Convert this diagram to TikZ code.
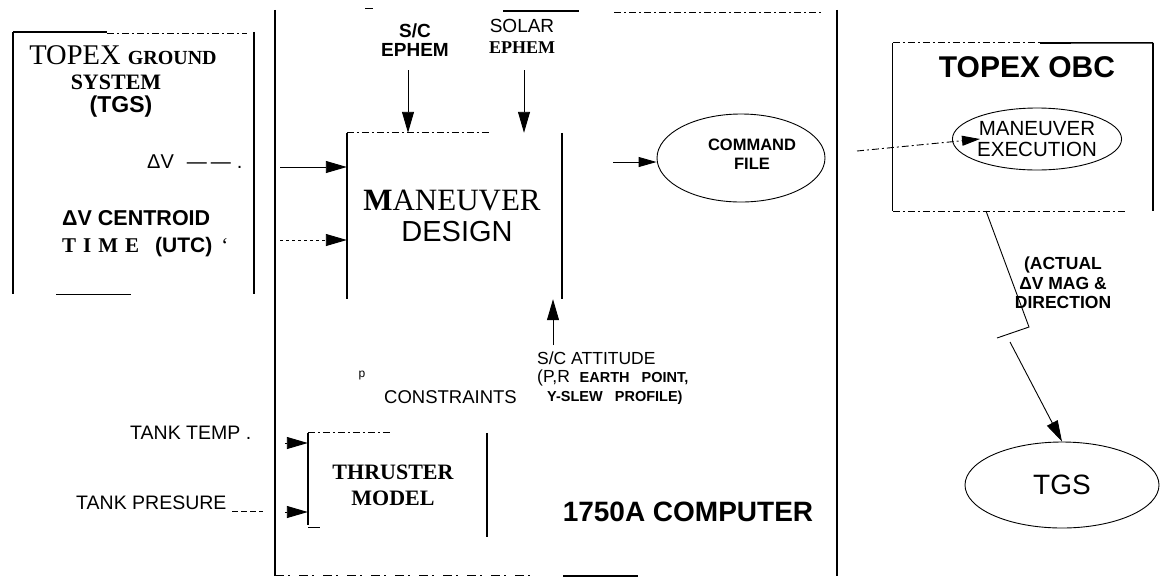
\documentclass[tikz,border=0pt]{standalone}
\usepackage{fontspec}
\setmainfont{Liberation Serif}
\setsansfont{Liberation Sans}
\usetikzlibrary{arrows.meta,shapes.geometric}
\begin{document}
\begin{tikzpicture}[x=1pt,y=-1pt,
  heavy/.style={line width=2.3pt},
  medium/.style={line width=1.6pt},
  slim/.style={line width=0.9pt},
  faint/.style={line width=0.9pt, dash pattern=on 7pt off 3pt on 2pt off 3pt},
  tri/.style={-{Triangle[length=21pt,width=12pt]}},
  smalltri/.style={-{Triangle[length=18pt,width=10pt]}},
  lbl/.style={inner sep=0pt, align=center},
  frame/.style={rectangle, inner sep=0pt},
  oval/.style={ellipse, draw, line width=0.9pt, inner sep=0pt, align=center},
]
\useasboundingbox (0,0) rectangle (1164,582);

% ---------- frames (invisible nodes, sides drawn separately)
\node[frame, minimum width=241pt, minimum height=262pt] (tgsbox) at (133.5,163) {};
\node[frame, minimum width=562pt, minimum height=566pt] (comp) at (556,293) {};
\node[frame, minimum width=215pt, minimum height=166pt] (md) at (454.5,216) {};
\node[frame, minimum width=179pt, minimum height=104pt] (thr) at (397.5,485) {};
\node[frame, minimum width=260pt, minimum height=168pt] (obc) at (1023,127) {};

% TGS box sides
\draw[heavy] (tgsbox.north west) -- (tgsbox.south west);
\draw[heavy] (tgsbox.north east) -- (tgsbox.south east);
\draw[medium] (tgsbox.north west) -- ++(94,0);
\draw[faint] (107,33) -- (247,33);
\draw[slim] (56,294) -- (131,294);

% computer box sides
\draw[heavy] (comp.north west) -- (comp.south west);
\draw[heavy] (comp.north east) -- (comp.south east);
\draw[medium] (503,11) -- (579,11);
\draw[faint] (614,12) -- (823,12);
\draw[slim] (365,8) -- (373,8);
\draw[slim, dash pattern=on 9pt off 4pt on 2pt off 9pt] (275,575) -- (530,575);
\draw[medium] (563,576) -- (638,576);

% maneuver design box sides
\draw[medium] (md.north west) -- (md.south west);
\draw[medium] (md.north east) -- (md.south east);
\draw[faint] (md.north west) -- ++(143,0);

% thruster model box sides
\draw[medium] (thr.north west) -- ++(0,92);
\draw[medium] (thr.north east) -- (thr.south east);
\draw[faint] (thr.north west) -- ++(82,0);
\draw[slim] (308,527) -- (320,527);

% OBC box sides
\draw[slim] (obc.north west) -- (obc.south west);
\draw[heavy] (obc.north east) -- (obc.south east);
\draw[faint] (obc.north west) -- ++(147,0);
\draw[medium] (1040,43) -- (obc.north east);
\draw[faint] (obc.south west) -- ++(232,0);

% ---------- ellipses
\node[oval, minimum width=168pt, minimum height=88pt] (cmd) at (741,158) {};
\node[lbl, font=\sffamily\bfseries\fontsize{16.5}{19}\selectfont] (cmdt) at (752,154) {COMMAND\\FILE};
\node[oval, minimum width=164pt, minimum height=62pt,
      font=\sffamily\fontsize{20.5}{21}\selectfont] (mex) at (1037,139) {MANEUVER\\EXECUTION};
\node[oval, minimum width=194pt, minimum height=86pt,
      font=\sffamily\fontsize{28}{30}\selectfont] (tgs) at (1062,485) {TGS};

% ---------- texts
\node[lbl, font=\rmfamily\fontsize{28.5}{28}\selectfont] (tgst1) at (123,55)
  {TOPEX {\bfseries\fontsize{20}{20}\selectfont GROUND}};
\node[lbl, font=\rmfamily\bfseries\fontsize{22}{22}\selectfont] (tgst2) at (116,82) {SYSTEM};
\node[lbl, font=\sffamily\bfseries\fontsize{23}{23}\selectfont] (tgst3) at (121,107) {(TGS)};
\node[lbl, anchor=west, font=\sffamily\fontsize{20}{20}\selectfont] (dv) at (147,162)
  {ΔV\hspace{13pt}—\hspace{4pt}—\hspace{6pt}.};
\node[lbl, anchor=west, font=\sffamily\bfseries\fontsize{21.5}{21}\selectfont] (dvc) at (62,218)
  {ΔV CENTROID};
\node[lbl, anchor=west, font=\fontsize{21}{21}\selectfont] (utc) at (62,247)
  {{\rmfamily\bfseries T\hspace{7pt}I\hspace{7pt}M\hspace{7pt}E}\hspace{16pt}{\sffamily\bfseries (UTC)}\hspace{9pt}‘};

\node[lbl, font=\sffamily\bfseries\fontsize{19}{19}\selectfont] (sceph) at (415,40) {S/C\\EPHEM};
\node[lbl, font=\fontsize{18}{21}\selectfont] (soleph) at (522,36)
  {{\sffamily\fontsize{19}{21}\selectfont SOLAR}\\{\rmfamily\bfseries EPHEM}};

\node[lbl, font=\rmfamily\fontsize{31}{31}\selectfont] (mdt1) at (452,200) {\textbf{M}ANEUVER};
\node[lbl, font=\sffamily\fontsize{29}{29}\selectfont] (mdt2) at (457,232) {DESIGN};

\node[lbl, font=\sffamily\bfseries\fontsize{30}{30}\selectfont] (obct) at (1027,67) {TOPEX OBC};

\node[lbl, font=\sffamily\bfseries\fontsize{17.5}{19.5}\selectfont] (actual) at (1063,283)
  {(ACTUAL\\ΔV MAG \&\\DIRECTION};

\node[lbl, anchor=west, align=left, font=\sffamily\fontsize{17.5}{18.5}\selectfont] (att) at (537,378)
  {S/C ATTITUDE\\(P,R\ \ {\bfseries\fontsize{14.5}{18.5}\selectfont EARTH\ \ \ POINT,}\\
   \hspace*{10pt}{\bfseries\fontsize{14.5}{18.5}\selectfont Y-SLEW\ \ \ PROFILE)}};
\node[lbl, anchor=east, font=\sffamily\fontsize{18.5}{18.5}\selectfont] (cons) at (517,397) {CONSTRAINTS};
\node[lbl, font=\sffamily\fontsize{12}{12}\selectfont] (pmark) at (362,376) {p};

\node[lbl, font=\rmfamily\bfseries\fontsize{22}{26}\selectfont] (thrt) at (393,485) {THRUSTER\\MODEL};
\node[lbl, font=\sffamily\bfseries\fontsize{28}{28}\selectfont] (compt) at (688,512) {1750A COMPUTER};

\node[lbl, anchor=west, font=\sffamily\fontsize{19.5}{19.5}\selectfont] (ttemp) at (130,433) {TANK TEMP .};
\node[lbl, anchor=west, font=\sffamily\fontsize{19.5}{19.5}\selectfont] (tpres) at (76,503) {TANK PRESURE};

% ---------- connectors
\coordinate (dvtail) at (280,167);
\draw[slim, tri] (dvtail) -- (dvtail -| md.west);
\coordinate (ctail) at (280,240);
\draw[slim, dashed, tri] (ctail) -- (ctail -| md.west);

\coordinate (scA) at (408,70);
\draw[slim, tri] (scA) -- (scA |- md.north);
\coordinate (solA) at (524,70);
\draw[slim, tri] (solA) -- (solA |- md.north);

\coordinate (mdout) at (613,162);
\draw[slim, smalltri] (mdout) -- (mdout -| cmd.west);

\coordinate (cmdout) at (857,151);
\coordinate (metip) at (980,139);
\draw[faint, smalltri] (cmdout) -- (metip);

\coordinate (attA) at (553,345);
\draw[slim, tri] (attA) -- (attA |- md.south);

\coordinate (t1) at (285,443);
\draw[slim, tri] (t1) -- (t1 -| thr.west);
\coordinate (t2) at (285,512);
\draw[slim, tri] (t2) -- (t2 -| thr.west);
\coordinate (pdash1) at (232,511);
\coordinate (pdash2) at (263,511);
\draw[slim, dash pattern=on 6pt off 3pt] (pdash1) -- (pdash2);

\coordinate (z1) at (986,211);
\coordinate (z2) at (1029,327);
\coordinate (z3) at (997,338);
\coordinate (z4) at (1010,342);
\draw[slim] (z1) -- (z2) -- (z3);
\draw[slim, tri] (z4) -- (tgs.north);
\end{tikzpicture}
\end{document}
